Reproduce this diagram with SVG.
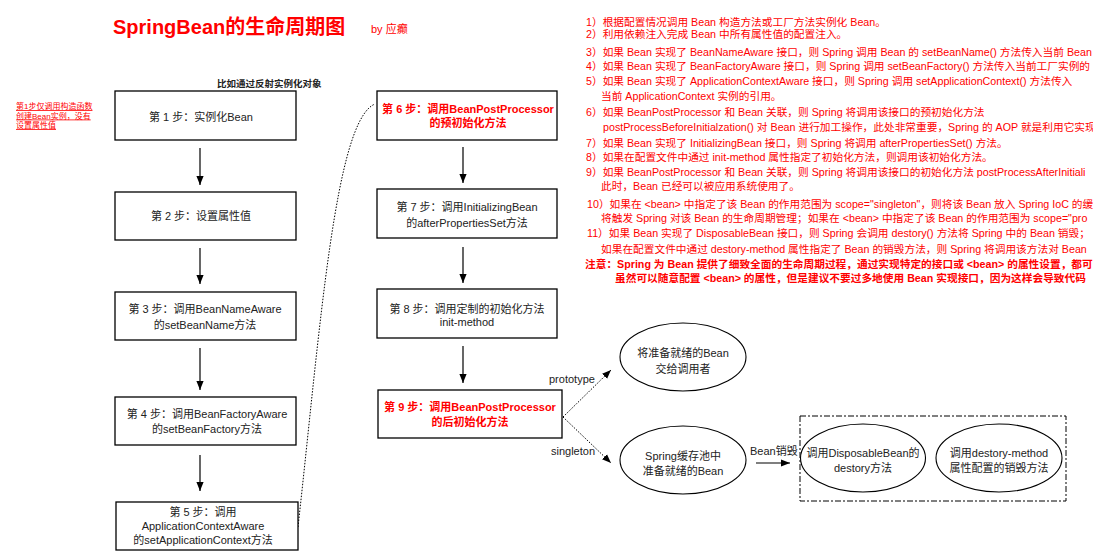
<svg xmlns="http://www.w3.org/2000/svg" width="1093" height="560" viewBox="0 0 1093 560">
<style>
text{font-family:"Liberation Sans","Noto Sans CJK SC",sans-serif;fill:#222}
.box{fill:#fff;stroke:#000;stroke-width:1.3}
.ell{fill:#fff;stroke:#000;stroke-width:1.1}
.t{font-size:11px;text-anchor:middle}
.red{fill:#ff0000}
.b{font-weight:bold}
.note{font-size:10.7px;fill:#ff0000}
.conn{fill:none;stroke:#000;stroke-width:1.2}
.dot{fill:none;stroke:#000;stroke-width:1;stroke-dasharray:1.5,1.5}
</style>
<defs>
<marker id="ah" markerUnits="userSpaceOnUse" markerWidth="9" markerHeight="9" viewBox="0 0 10 10" refX="10" refY="5" orient="auto">
<path d="M0,1 L10,5 L0,9 Z" fill="#000"/>
</marker>
</defs>

<g id="title">
<text x="113" y="34" font-size="20" font-weight="bold" class="red">SpringBean的生命周期图</text>
<text x="371" y="33" font-size="11" class="red">by 应癫</text>
</g>

<g id="left-note">
<text x="16" y="109" font-size="8" class="red" text-decoration="underline">第1步仅调用构造函数</text>
<text x="16" y="118.5" font-size="8" class="red" text-decoration="underline">创建Bean实例，没有</text>
<text x="16" y="128" font-size="8" class="red" text-decoration="underline">设置属性值</text>
</g>

<g id="reflect-note">
<text x="217" y="87" font-size="9.5" font-weight="bold">比如通过反射实例化对象</text>
</g>

<g id="connectors">
<line class="conn" x1="200" y1="148" x2="200" y2="185" marker-end="url(#ah)"/>
<line class="conn" x1="200" y1="248" x2="200" y2="284" marker-end="url(#ah)"/>
<line class="conn" x1="200" y1="348" x2="200" y2="390" marker-end="url(#ah)"/>
<line class="conn" x1="200" y1="455" x2="200" y2="491" marker-end="url(#ah)"/>
<path class="dot" d="M298,527 C320,330 335,120 375,104"/>
<line class="conn" x1="463" y1="147" x2="463" y2="183" marker-end="url(#ah)"/>
<line class="conn" x1="463" y1="247" x2="463" y2="283" marker-end="url(#ah)"/>
<line class="conn" x1="463" y1="346" x2="463" y2="383" marker-end="url(#ah)"/>
<line class="dot" x1="563" y1="417" x2="611" y2="370" marker-end="url(#ah)"/>
<line class="dot" x1="563" y1="417" x2="611" y2="463" marker-end="url(#ah)"/>
<line class="conn" x1="756" y1="463" x2="790" y2="463" marker-end="url(#ah)"/>
<text x="549" y="383" font-size="11">prototype</text>
<text x="551" y="455" font-size="11">singleton</text>
<text x="750" y="455" font-size="11">Bean销毁</text>
</g>

<g id="step1">
<rect class="box" x="115" y="91" width="181" height="49"/>
<text class="t" x="201" y="121">第 1 步：实例化Bean</text>
</g>
<g id="step2">
<rect class="box" x="115" y="192" width="181" height="48"/>
<text class="t" x="201" y="220">第 2 步：设置属性值</text>
</g>
<g id="step3">
<rect class="box" x="115" y="292" width="181" height="48"/>
<text class="t" x="205" y="313">第 3 步：调用BeanNameAware</text>
<text class="t" x="205" y="329">的setBeanName方法</text>
</g>
<g id="step4">
<rect class="box" x="115" y="397" width="181" height="48"/>
<text class="t" x="207" y="418">第 4 步：调用BeanFactoryAware</text>
<text class="t" x="207" y="433">的setBeanFactory方法</text>
</g>
<g id="step5">
<rect class="box" x="116" y="502" width="182" height="48"/>
<text class="t" x="203" y="516">第 5 步：调用</text>
<text class="t" x="203" y="530">ApplicationContextAware</text>
<text class="t" x="203" y="544">的setApplicationContext方法</text>
</g>
<g id="step6">
<rect class="box" x="377" y="91" width="180" height="49"/>
<text class="t red b" x="468" y="113">第 6 步：调用BeanPostProcessor</text>
<text class="t red b" x="468" y="127">的预初始化方法</text>
</g>
<g id="step7">
<rect class="box" x="377" y="189" width="180" height="49"/>
<text class="t" x="467" y="211">第 7 步：调用InitializingBean</text>
<text class="t" x="467" y="227">的afterPropertiesSet方法</text>
</g>
<g id="step8">
<rect class="box" x="377" y="289" width="180" height="49"/>
<text class="t" x="467" y="313">第 8 步：调用定制的初始化方法</text>
<text class="t" x="467" y="326">init-method</text>
</g>
<g id="step9">
<rect class="box" x="378" y="390" width="184" height="48"/>
<text class="t red b" x="470" y="411">第 9 步：调用BeanPostProcessor</text>
<text class="t red b" x="470" y="426">的后初始化方法</text>
</g>
<g id="handover">
<ellipse class="ell" cx="683" cy="357" rx="63" ry="34"/>
<text class="t" x="683" y="357">将准备就绪的Bean</text>
<text class="t" x="683" y="373">交给调用者</text>
</g>
<g id="cache">
<ellipse class="ell" cx="683" cy="460" rx="63" ry="34"/>
<text class="t" x="683" y="460">Spring缓存池中</text>
<text class="t" x="683" y="475">准备就绪的Bean</text>
</g>
<g id="destroy-group">
<rect x="800" y="416" width="266" height="85" fill="none" stroke="#000" stroke-width="1" stroke-dasharray="6,2,2,2"/>
</g>
<g id="disposable">
<ellipse class="ell" cx="863" cy="458" rx="62.5" ry="34"/>
<text class="t" x="863" y="457">调用DisposableBean的</text>
<text class="t" x="863" y="472">destory方法</text>
</g>
<g id="destory-method">
<ellipse class="ell" cx="999" cy="458" rx="63" ry="34"/>
<text class="t" x="999" y="457">调用destory-method</text>
<text class="t" x="999" y="472">属性配置的销毁方法</text>
</g>

<g id="explanation">
<text class="note" x="586" y="25.5">1）根据配置情况调用 Bean 构造方法或工厂方法实例化 Bean。</text>
<text class="note" x="586" y="38">2）利用依赖注入完成 Bean 中所有属性值的配置注入。</text>
<text class="note" x="586" y="56">3）如果 Bean 实现了 BeanNameAware 接口，则 Spring 调用 Bean 的 setBeanName() 方法传入当前 Bean</text>
<text class="note" x="586" y="70">4）如果 Bean 实现了 BeanFactoryAware 接口，则 Spring 调用 setBeanFactory() 方法传入当前工厂实例的</text>
<text class="note" x="586" y="85">5）如果 Bean 实现了 ApplicationContextAware 接口，则 Spring 调用 setApplicationContext() 方法传入</text>
<text class="note" x="601" y="100">当前 ApplicationContext 实例的引用。</text>
<text class="note" x="586" y="116">6）如果 BeanPostProcessor 和 Bean 关联，则 Spring 将调用该接口的预初始化方法</text>
<text class="note" x="603" y="131">postProcessBeforeInitialzation() 对 Bean 进行加工操作，此处非常重要，Spring 的 AOP 就是利用它实现</text>
<text class="note" x="586" y="147">7）如果 Bean 实现了 InitializingBean 接口，则 Spring 将调用 afterPropertiesSet() 方法。</text>
<text class="note" x="586" y="161">8）如果在配置文件中通过 init-method 属性指定了初始化方法，则调用该初始化方法。</text>
<text class="note" x="586" y="176">9）如果 BeanPostProcessor 和 Bean 关联，则 Spring 将调用该接口的初始化方法 postProcessAfterInitiali</text>
<text class="note" x="601" y="190">此时，Bean 已经可以被应用系统使用了。</text>
<text class="note" x="587" y="208">10）如果在 &lt;bean&gt; 中指定了该 Bean 的作用范围为 scope="singleton"，则将该 Bean 放入 Spring IoC 的缓</text>
<text class="note" x="601" y="222">将触发 Spring 对该 Bean 的生命周期管理；如果在 &lt;bean&gt; 中指定了该 Bean 的作用范围为 scope="pro</text>
<text class="note" x="587" y="237">11）如果 Bean 实现了 DisposableBean 接口，则 Spring 会调用 destory() 方法将 Spring 中的 Bean 销毁；</text>
<text class="note" x="601" y="253">如果在配置文件中通过 destory-method 属性指定了 Bean 的销毁方法，则 Spring 将调用该方法对 Bean</text>
<text class="note b" x="585" y="268">注意：Spring 为 Bean 提供了细致全面的生命周期过程，通过实现特定的接口或 &lt;bean&gt; 的属性设置，都可</text>
<text class="note b" x="615" y="282">虽然可以随意配置 &lt;bean&gt; 的属性，但是建议不要过多地使用 Bean 实现接口，因为这样会导致代码</text>
</g>
</svg>
